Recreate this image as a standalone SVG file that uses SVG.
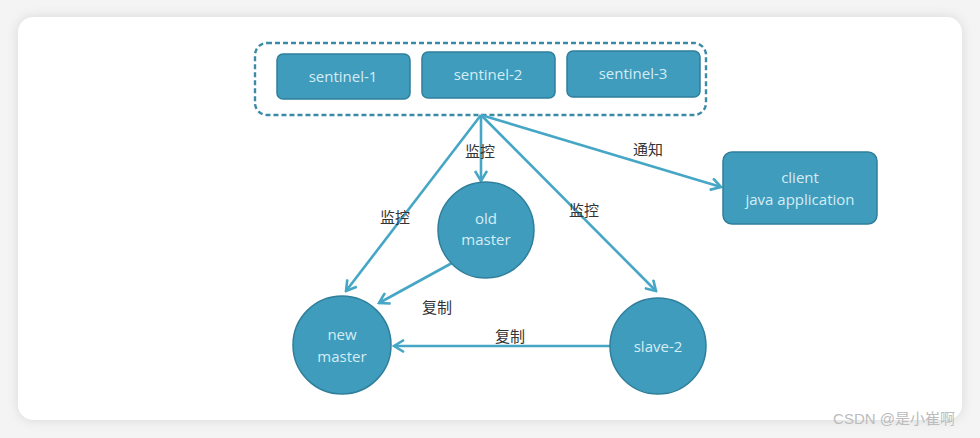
<svg xmlns="http://www.w3.org/2000/svg" width="980" height="438" viewBox="0 0 980 438">
<defs>
<filter id="sh" x="-5%" y="-10%" width="110%" height="120%"><feGaussianBlur stdDeviation="6"/></filter>
<marker id="ah" markerWidth="14" markerHeight="14" viewBox="0 0 14 14" refX="12" refY="7" orient="auto" markerUnits="userSpaceOnUse"><path d="M2,1 L12,7 L2,13" fill="none" stroke="#46a6c6" stroke-width="2.6" stroke-linejoin="miter"/></marker>
<style>
.nd{fill:#3f9cbd;stroke:#2f7f9b;stroke-width:1.5}
.nt{font-family:"Open Sans","Liberation Sans",sans-serif;font-size:15px;fill:#d4edf5;text-anchor:middle}
.cn{fill:none;stroke:#46a6c6;stroke-width:2.6;marker-end:url(#ah)}
.lb{font-family:"Noto Sans CJK SC",sans-serif;font-size:15px;fill:#333;text-anchor:middle}
</style>
</defs>
<rect width="980" height="438" fill="#f4f4f4"/>
<rect x="18" y="17" width="944" height="403" rx="15" fill="#d8d8d8" filter="url(#sh)"/>
<rect x="18" y="17" width="944" height="403" rx="15" fill="#ffffff"/>
<g id="sentinels">
<rect x="255" y="43" width="451" height="72" rx="12" fill="none" stroke="#3b8aa6" stroke-width="2.4" stroke-dasharray="5,3"/>
</g>
<g id="connectors">
<line class="cn" x1="481" y1="115" x2="346" y2="291"/>
<line class="cn" x1="481" y1="115" x2="481" y2="181"/>
<line class="cn" x1="481" y1="115" x2="656" y2="291"/>
<line class="cn" x1="481" y1="115" x2="721" y2="187"/>
<line class="cn" x1="452" y1="263" x2="379" y2="303"/>
<line class="cn" x1="610" y1="346" x2="394" y2="346"/>
</g>
<g id="labels">
<text class="lb" x="480" y="157">监控</text>
<text class="lb" x="395" y="223">监控</text>
<text class="lb" x="584" y="216">监控</text>
<text class="lb" x="648" y="155">通知</text>
<text class="lb" x="437" y="313">复制</text>
<text class="lb" x="510" y="342">复制</text>
</g>
<g id="sentinel-1"><rect class="nd" x="277" y="54" width="133" height="45" rx="6"/><text class="nt" x="343" y="82">sentinel-1</text></g>
<g id="sentinel-2"><rect class="nd" x="422" y="52" width="133" height="46" rx="6"/><text class="nt" x="488" y="80">sentinel-2</text></g>
<g id="sentinel-3"><rect class="nd" x="567" y="51" width="133" height="46" rx="6"/><text class="nt" x="633" y="79">sentinel-3</text></g>
<g id="old-master"><circle class="nd" cx="486" cy="230" r="48"/><text class="nt" x="486" y="224">old</text><text class="nt" x="486" y="245">master</text></g>
<g id="new-master"><circle class="nd" cx="342" cy="345" r="49"/><text class="nt" x="342" y="340">new</text><text class="nt" x="342" y="362">master</text></g>
<g id="slave-2"><circle class="nd" cx="658" cy="346" r="48"/><text class="nt" x="658" y="352">slave-2</text></g>
<g id="client"><rect class="nd" x="723" y="152" width="154" height="72" rx="9"/><text class="nt" x="800" y="183">client</text><text class="nt" x="800" y="205">java application</text></g>
<text x="955" y="424" font-family="'Liberation Sans','Noto Sans CJK SC',sans-serif" font-size="15" fill="#bcbcbc" text-anchor="end">CSDN @是小崔啊</text>
</svg>
